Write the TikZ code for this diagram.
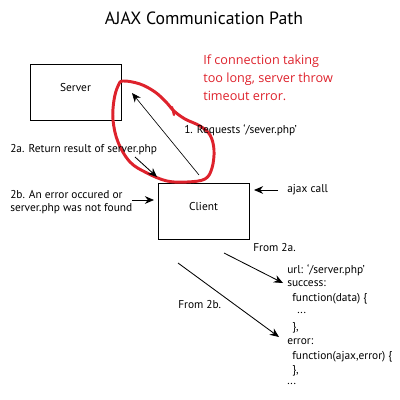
\documentclass[tikz,border=0pt]{standalone}
\usepackage{fontspec}
\setmainfont{PT Sans}
\newfontfamily\redfont{Open Sans}
\usetikzlibrary{arrows.meta}
\definecolor{redink}{RGB}{222,34,44}
\begin{document}
\begin{tikzpicture}[x=0.025cm,y=-0.025cm,
  box/.style={draw,line width=0.7pt,inner sep=0pt},
  lbl/.style={anchor=west,inner sep=0pt,font=\fontsize{8.1}{9.6}\selectfont},
  redtxt/.style={anchor=north west,inner sep=0pt,align=left,text=redink,font=\redfont\fontsize{9}{12.6}\selectfont},
  arr/.style={line width=0.6pt,-{Stealth[length=6.5pt,width=5.5pt]}},
  thinarr/.style={line width=0.45pt,-{Stealth[length=6.5pt,width=5.5pt]}}]
\useasboundingbox (0,0) rectangle (400,400);
\node[inner sep=0pt,font=\fontsize{12.6}{14}\selectfont] (title) at (204,18) {AJAX Communication Path};
% boxes
\draw[line width=0.7pt] (30,64) rectangle (121,120);
\node[lbl,anchor=center] (server) at (75.5,88) {Server};
\draw[line width=0.7pt] (158,183) rectangle (249,239);
\node[lbl,anchor=center] (client) at (203.5,207) {Client};
% red note
\node[redtxt] (note) at (203,55) {If connection taking\\too long, server throw\\timeout error.};
% red loop
\draw[redink,line width=2.1pt,line join=round] plot[smooth cycle,tension=0.6] coordinates {
 (123,81) (140,84) (155,92) (166,102) (174,111) (185,119) (200,126) (210,135)
 (214,150) (212,168) (205,179) (187,182) (167,181) (147,173) (130,162)
 (118,142) (113,120) (114,100) (118,86)};
\draw[redink,line width=1.6pt,line cap=round] (172,107) -- (174,115);
% arrow 1
\coordinate (c1) at (199,175);
\coordinate (s1) at (132,93);
\draw[thinarr] (c1) -- (s1);
\node[lbl] (req) at (184,130) {1. Requests ‘/sever.php’};
% arrow 2a
\node[lbl] (l2a) at (10,150) {2a. Return result of server.php};
\coordinate (a2s) at (135,157);
\coordinate (a2e) at (157,177);
\draw[arr] (a2s) -- (a2e);
% arrow 2b
\node[lbl,anchor=north west,align=left] (l2b) at (10,190) {2b. An error occured or\\server.php was not found};
\coordinate (b2s) at (132,200);
\coordinate (b2e) at (154,200);
\draw[arr] (b2s) -- (b2e);
% ajax call
\coordinate (ajs) at (278,190);
\coordinate (aje) at (254,190);
\draw[arr] (ajs) -- (aje);
\node[lbl] (ajax) at (287,190) {ajax call};
% from labels
\node[lbl] (f2a) at (253,248) {From 2a.};
\node[lbl] (f2b) at (178,305) {From 2b.};
\coordinate (fa1) at (224,253);
\coordinate (fa2) at (283,283);
\draw[arr] (fa1) -- (fa2);
\coordinate (fb1) at (178,263);
\coordinate (fb2) at (279,337);
\draw[arr] (fb1) -- (fb2);
% code
\node[lbl] (k1) at (287,270) {url: ‘/server.php’};
\node[lbl] (k2) at (287,284) {success:};
\node[lbl] (k3) at (292,299) {function(data) \{};
\node[lbl] (k4) at (297,313) {...};
\node[lbl] (k5) at (292,328) {\},};
\node[lbl] (k6) at (287,342) {error:};
\node[lbl] (k7) at (292,357) {function(ajax,error) \{};
\node[lbl] (k8) at (292,371) {\},};
\node[lbl] (k9) at (287,384) {...};
\end{tikzpicture}
\end{document}
